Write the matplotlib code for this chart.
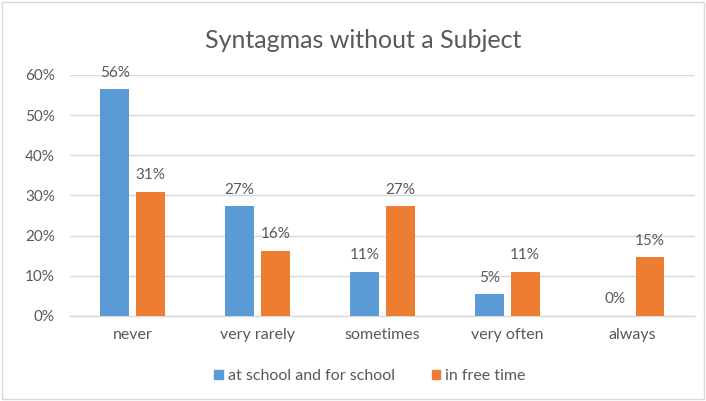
import matplotlib.pyplot as plt
import matplotlib.patches as mpatches
import numpy as np

plt.rcParams['font.family'] = ['Lato', 'DejaVu Sans']

categories = ['never', 'very rarely', 'sometimes', 'very often', 'always']
school = [0.564, 0.273, 0.11, 0.054, 0.0]
free_time = [0.309, 0.162, 0.273, 0.11, 0.146]
school_labels = ['56%', '27%', '11%', '5%', '0%']
free_labels = ['31%', '16%', '27%', '11%', '15%']
series_names = ['at school and for school', 'in free time']

blue = '#5B9BD5'
orange = '#ED7D31'
text_gray = '#595959'
grid_gray = '#D9D9D9'

fig = plt.figure(figsize=(7.06, 4.01), dpi=100)
ax = fig.add_axes([0.0992, 0.212, 0.885, 0.601])

x = np.arange(len(categories))
w = 0.23
off = 0.142
b1 = ax.bar(x - off, school, w, color=blue, zorder=3)
b2 = ax.bar(x + off, free_time, w, color=orange, zorder=3)

for bars, labels in ((b1, school_labels), (b2, free_labels)):
    for bar, lab in zip(bars, labels):
        ax.annotate(lab, (bar.get_x() + bar.get_width() / 2, bar.get_height()),
                    xytext=(0, 7), textcoords='offset points',
                    ha='center', va='bottom', fontsize=11, color=text_gray)

ax.set_xlim(-0.5, len(categories) - 0.5)
ax.set_ylim(0, 0.6)
ax.set_yticks(np.arange(0, 0.61, 0.1))
ax.set_yticklabels([f'{int(round(v * 100))}%' for v in np.arange(0, 0.61, 0.1)])
ax.set_xticks(x)
ax.set_xticklabels(categories)
ax.tick_params(axis='both', length=0, labelsize=11, labelcolor=text_gray)
ax.tick_params(axis='x', labelsize=11.5, pad=9)
ax.tick_params(axis='y', pad=11)
ax.grid(axis='y', color=grid_gray, linewidth=1, zorder=0)
for s in ['top', 'right', 'left']:
    ax.spines[s].set_visible(False)
ax.spines['bottom'].set_color(grid_gray)
ax.spines['bottom'].set_linewidth(1)

fig.text(0.514, 0.9, 'Syntagmas without a Subject', ha='center', va='center',
         fontsize=18, color=text_gray)

handles = [mpatches.Patch(color=blue, label=series_names[0]),
           mpatches.Patch(color=orange, label=series_names[1])]
fig.legend(handles=handles, loc='center', bbox_to_anchor=(0.524, 0.062), ncol=2,
           frameon=False, fontsize=11.5, labelcolor=text_gray,
           handlelength=0.55, handleheight=0.55, handletextpad=0.3, columnspacing=2.3)

fig.patches.append(mpatches.Rectangle((0.003, 0.004), 0.994, 0.99, transform=fig.transFigure,
                                      fill=False, edgecolor='#D9D9D9', linewidth=1))

fig.savefig('out.png', dpi=100, facecolor='white')
